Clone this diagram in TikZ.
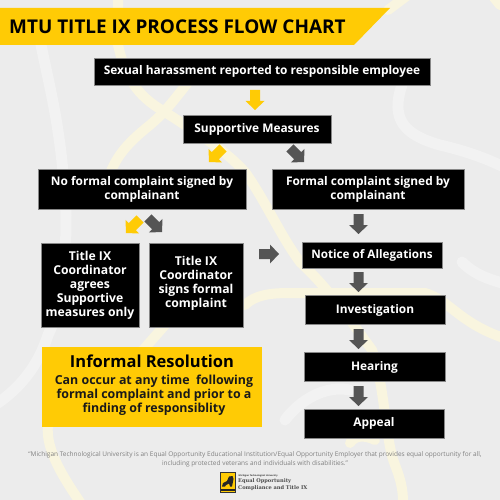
\documentclass[tikz,border=0pt]{standalone}
\usepackage{fontspec}
\setmainfont{Open Sans}
\newfontfamily\slabf{DejaVu Serif}
\definecolor{gold}{HTML}{FFCB05}
\definecolor{bg}{HTML}{ECECEC}
\definecolor{palegold}{HTML}{F9F5DF}
\definecolor{paleW}{HTML}{F2F2F2}
\definecolor{darkarrow}{HTML}{555555}
\definecolor{foot}{HTML}{808080}
\tikzset{
  x=1pt,y=-1pt,
  flowbox/.style={fill=black,draw=darkarrow!70,line width=0.4pt,text=white,align=center,inner sep=0pt,
    font=\bfseries\fontsize{11.9}{14}\selectfont,anchor=center},
  pics/blockarrow/.style={code={
    \fill[pic actions] (-10,-5) -- (1,-5) -- (1,-9.5) -- (10,0) -- (1,9.5) -- (1,5) -- (-10,5) -- cycle;}},
  goldarrow/.style={fill=gold},
  greyarrow/.style={fill=darkarrow},
  bandY/.style={draw=palegold,line width=10pt,line cap=round,line join=round},
  bandW/.style={draw=paleW,line width=11pt,line cap=round,line join=round},
}
\begin{document}
\begin{tikzpicture}
\useasboundingbox (0,0) rectangle (500,500);
\fill[bg] (0,0) rectangle (500,500);
% background bands
\path[bandW] (40,40) .. controls (50,90) and (62,130) .. (66,215) .. controls (66,280) and (60,310) .. (48,335) .. controls (40,360) and (25,385) .. (-5,405);
\path[bandW] (402,85) .. controls (390,120) and (405,135) .. (440,145) .. controls (470,152) and (490,160) .. (510,170);
\path[bandW] (462,262) .. controls (475,275) and (490,280) .. (510,285);
\path[bandW] (285,420) .. controls (300,400) and (325,385) .. (350,390);
\path[bandY] (118,-5) -- (118,45) .. controls (125,75) and (135,95) .. (165,112) .. controls (200,135) and (225,150) .. (245,172) .. controls (265,200) and (280,235) .. (300,262) .. controls (330,290) and (350,320) .. (372,350) .. controls (385,385) and (385,440) .. (395,465) .. controls (403,485) and (403,495) .. (403,505);
\path[bandY] (105,190) .. controls (112,160) and (125,145) .. (150,125) .. controls (165,112) and (170,105) .. (190,80);
\path[bandY] (143,350) -- (165,325);
\path[bandY] (245,305) .. controls (255,295) and (270,293) .. (290,293) -- (425,293) .. controls (450,300) and (460,325) .. (510,340);
\path[bandY] (350,443) .. controls (355,435) and (365,435) .. (375,440);
\path[bandY] (48,425) .. controls (45,450) and (65,480) .. (82,505);
\path[bandY] (388,10) -- (408,-5);
\path[bandY] (492,-5) -- (500,5);
% title banner
\fill[gold] (0,8) -- (390,8) -- (354,45) -- (0,45) -- cycle;
\node[anchor=west,inner sep=0pt,font=\bfseries\fontsize{18.95}{22}\selectfont,text=black] (title) at (9,27) {MTU TITLE IX PROCESS FLOW CHART};
% boxes
\node[flowbox,minimum width=336pt,minimum height=27pt] (report) at (262,71.5) {\raisebox{-1pt}{Sexual harassment reported to responsible employee}};
\node[flowbox,minimum width=148pt,minimum height=28pt] (support) at (257,129) {\raisebox{-1pt}{Supportive Measures}};
\node[flowbox,minimum width=208pt,minimum height=40pt] (noformal) at (142,189) {No formal complaint signed by\\complainant};
\node[flowbox,minimum width=192pt,minimum height=40pt] (formal) at (368,189) {Formal complaint signed by\\complainant};
\node[flowbox,minimum width=98pt,minimum height=84pt,font=\bfseries\fontsize{12.2}{14}\selectfont] (agree) at (90,285) {Title IX\\Coordinator\\agrees\\Supportive\\measures only\\[-12pt]\mbox{}};
\node[flowbox,minimum width=94pt,minimum height=84pt,font=\bfseries\fontsize{12.2}{14}\selectfont] (signs) at (196,285) {Title IX\\Coordinator\\signs formal\\complaint\\[-7pt]\mbox{}};
\node[flowbox,minimum width=140pt,minimum height=26pt,font=\bfseries\fontsize{11.7}{14}\selectfont] (notice) at (372,255) {Notice of Allegations};
\node[flowbox,minimum width=140pt,minimum height=29pt] (invest) at (375,310) {\raisebox{-1pt}{Investigation}};
\node[flowbox,minimum width=141pt,minimum height=29pt] (hearing) at (374.5,367) {\raisebox{-1pt}{Hearing}};
\node[flowbox,minimum width=140pt,minimum height=29pt] (appeal) at (374,423.5) {\raisebox{-1pt}{Appeal}};
% informal resolution
\node[fill=gold,minimum width=220pt,minimum height=80pt,inner sep=0pt] (informal) at (152,387) {};
\node[inner sep=0pt,font=\bfseries\fontsize{16.5}{18}\selectfont,text=black] (infhead) at (152,361) {Informal Resolution};
\node[inner sep=0pt,align=center,font=\bfseries\fontsize{12.4}{14}\selectfont,text=black!90] (infbody) at (154,395.5) {Can occur at any time\ \ following\\formal complaint and prior to a\\finding of responsiblity};
% arrows
\pic[goldarrow,rotate=-90] (a1) at (255,100) {blockarrow};
\pic[goldarrow,rotate=-135] (a2) at (216,155) {blockarrow};
\pic[greyarrow,rotate=-45] (a3) at (297,155) {blockarrow};
\pic[goldarrow,rotate=-135] (a4) at (133,226) {blockarrow};
\pic[greyarrow,rotate=-45] (a5) at (155,225) {blockarrow};
\pic[greyarrow,rotate=0] (a6) at (269,254) {blockarrow};
\pic[greyarrow,rotate=-90] (a7) at (358.5,224) {blockarrow};
\pic[greyarrow,rotate=-90] (a8) at (358.5,282) {blockarrow};
\pic[greyarrow,rotate=-90] (a9) at (358.5,339) {blockarrow};
\pic[greyarrow,rotate=-90] (a10) at (358.5,396) {blockarrow};
% footer
\node[inner sep=0pt,align=center,text=foot,font=\fontsize{6.49}{9.2}\selectfont] (footer) at (255,459) {“Michigan Technological University is an Equal Opportunity Educational Institution/Equal Opportunity Employer that provides equal opportunity for all,\\including protected veterans and individuals with disabilities.”};
% logo
\node[fill=gold,draw=black!80,line width=0.4pt,minimum width=15.5pt,minimum height=19.5pt,inner sep=0pt] (logo) at (227.8,482) {};
\fill[black!85] (222,486.5) -- (223,483) -- (227,481) -- (229,476.5) -- (232.5,476) -- (233.5,479) -- (232,486.5) -- (230,486.5) -- (229,483.5) -- (226,485) -- (225,486.5) -- cycle;
\fill[black!85] (220.5,488.5) rectangle (235,491);
\node[anchor=west,inner sep=0pt,text=black!80,font=\bfseries\fontsize{2.3}{3}\selectfont] (logo0) at (238.5,476.3) {Michigan Technological University};
\node[anchor=west,inner sep=0pt,text=black!70,font=\slabf\bfseries\fontsize{5.1}{7}\selectfont] (logo1) at (238,481.5) {Equal Opportunity};
\node[anchor=west,inner sep=0pt,text=black!70,font=\slabf\bfseries\fontsize{5.1}{7}\selectfont] (logo2) at (238,488) {Compliance and Title IX};
\end{tikzpicture}
\end{document}
